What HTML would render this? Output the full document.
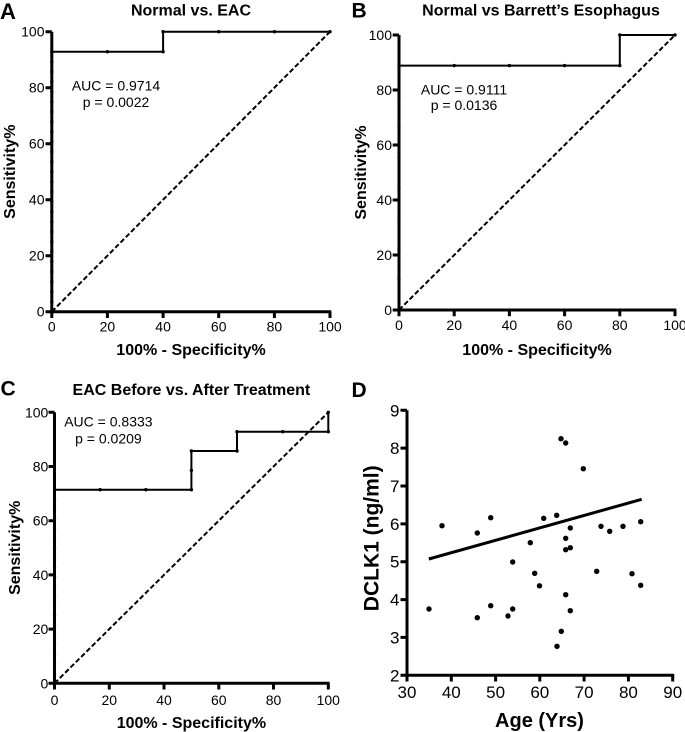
<!DOCTYPE html>
<html>
<head>
<meta charset="utf-8">
<style>
  html,body{margin:0;padding:0;background:#fff;}
  svg{display:block;}
  text{font-family:"Liberation Sans", Arial, sans-serif; fill:#000;}
  .t{font-size:14px;}
  .td{font-size:17px;}
  .b{font-weight:bold;font-size:16px;}
  .L{font-weight:bold;font-size:21px;}
</style>
</head>
<body>
<svg width="685" height="732" viewBox="0 0 685 732" xmlns="http://www.w3.org/2000/svg">
  <rect width="685" height="732" fill="#fff"/>

  <!-- ================= PANEL A ================= -->
  <text x="0" y="19" class="L" style="font-size:22px">A</text>
  <text x="191" y="15.5" class="b" text-anchor="middle">Normal vs. EAC</text>
  <g stroke="#000" fill="none" stroke-width="3">
    <path d="M51.8,31.7 V313.2"/>
    <path d="M50.3,311.7 H331.3"/>
    <path d="M45.5,311.7 H51.8 M45.5,255.7 H51.8 M45.5,199.7 H51.8 M45.5,143.7 H51.8 M45.5,87.7 H51.8 M45.5,31.7 H51.8"/>
    <path d="M51.8,311.7 V318 M107.4,311.7 V318 M163.1,311.7 V318 M218.7,311.7 V318 M274.4,311.7 V318 M330,311.7 V318"/>
  </g>
  <line x1="51.8" y1="311.7" x2="51.8" y2="51.7" stroke="#000" stroke-width="3.3" stroke-dasharray="0 10" stroke-linecap="round"/>
  <path d="M51.8,311.7 L330,31.7" stroke="#000" stroke-width="2" fill="none" stroke-dasharray="5 2.5"/>
  <path d="M51.8,311.7 V51.7 H163.1 V31.7 H330" stroke="#000" stroke-width="2" fill="none"/>
  <g fill="#000">
    <circle cx="107.4" cy="51.7" r="1.7"/><circle cx="163.1" cy="51.7" r="1.7"/>
    <circle cx="163.1" cy="31.7" r="1.7"/><circle cx="218.7" cy="31.7" r="1.7"/>
    <circle cx="274.4" cy="31.7" r="1.7"/><circle cx="330" cy="31.7" r="1.7"/>
  </g>
  <g class="t" text-anchor="end">
    <text x="44.5" y="316.7" class="t">0</text>
    <text x="44.5" y="260.7" class="t">20</text>
    <text x="44.5" y="204.7" class="t">40</text>
    <text x="44.5" y="148.7" class="t">60</text>
    <text x="44.5" y="92.7" class="t">80</text>
    <text x="44.5" y="36.7" class="t">100</text>
  </g>
  <g text-anchor="middle">
    <text x="51.8" y="331.7" class="t">0</text>
    <text x="107.4" y="331.7" class="t">20</text>
    <text x="163.1" y="331.7" class="t">40</text>
    <text x="218.7" y="331.7" class="t">60</text>
    <text x="274.4" y="331.7" class="t">80</text>
    <text x="330" y="331.7" class="t">100</text>
  </g>
  <text x="116" y="90.7" class="t" text-anchor="middle">AUC = 0.9714</text>
  <text x="116" y="107" class="t" text-anchor="middle">p = 0.0022</text>
  <text transform="translate(15,171.7) rotate(-90)" class="b" text-anchor="middle">Sensitivity%</text>
  <text x="191" y="355" class="b" text-anchor="middle">100% - Specificity%</text>

  <!-- ================= PANEL B ================= -->
  <text x="351.5" y="17.5" class="L">B</text>
  <text x="541" y="15.5" class="b" text-anchor="middle">Normal vs Barrett’s Esophagus</text>
  <g stroke="#000" fill="none" stroke-width="3">
    <path d="M399,35 V311.5"/>
    <path d="M397.5,310 H676.3"/>
    <path d="M392.7,310 H399 M392.7,255 H399 M392.7,200 H399 M392.7,145 H399 M392.7,90 H399 M392.7,35 H399"/>
    <path d="M399,310 V316.3 M454.2,310 V316.3 M509.4,310 V316.3 M564.6,310 V316.3 M619.8,310 V316.3 M675,310 V316.3"/>
  </g>
  <line x1="399" y1="310" x2="399" y2="65.6" stroke="#000" stroke-width="3.3" stroke-dasharray="0 30.55" stroke-linecap="round"/>
  <path d="M399,310 L675,35" stroke="#000" stroke-width="2" fill="none" stroke-dasharray="5 2.5"/>
  <path d="M399,310 V65.6 H619.8 V35 H675" stroke="#000" stroke-width="2" fill="none"/>
  <g fill="#000">
    <circle cx="454.2" cy="65.6" r="1.7"/><circle cx="509.4" cy="65.6" r="1.7"/>
    <circle cx="564.6" cy="65.6" r="1.7"/><circle cx="619.8" cy="65.6" r="1.7"/>
    <circle cx="619.8" cy="35" r="1.7"/><circle cx="675" cy="35" r="1.7"/>
  </g>
  <g text-anchor="end">
    <text x="392" y="315" class="t">0</text>
    <text x="392" y="260" class="t">20</text>
    <text x="392" y="205" class="t">40</text>
    <text x="392" y="150" class="t">60</text>
    <text x="392" y="95" class="t">80</text>
    <text x="392" y="40" class="t">100</text>
  </g>
  <g text-anchor="middle">
    <text x="399" y="330" class="t">0</text>
    <text x="454.2" y="330" class="t">20</text>
    <text x="509.4" y="330" class="t">40</text>
    <text x="564.6" y="330" class="t">60</text>
    <text x="619.8" y="330" class="t">80</text>
    <text x="675" y="330" class="t">100</text>
  </g>
  <text x="464" y="94.3" class="t" text-anchor="middle">AUC = 0.9111</text>
  <text x="464" y="110" class="t" text-anchor="middle">p = 0.0136</text>
  <text transform="translate(366,172.5) rotate(-90)" class="b" text-anchor="middle">Sensitivity%</text>
  <text x="537" y="355" class="b" text-anchor="middle">100% - Specificity%</text>

  <!-- ================= PANEL C ================= -->
  <text x="0.5" y="395.5" class="L">C</text>
  <text x="191.4" y="395" class="b" text-anchor="middle">EAC Before vs. After Treatment</text>
  <g stroke="#000" fill="none" stroke-width="3">
    <path d="M54.5,412.3 V684.8"/>
    <path d="M53,683.3 H329.6"/>
    <path d="M48.5,683.3 H54.5 M48.5,629.1 H54.5 M48.5,574.9 H54.5 M48.5,520.7 H54.5 M48.5,466.5 H54.5 M48.5,412.3 H54.5"/>
    <path d="M54.5,683.3 V689.5 M109.3,683.3 V689.5 M164,683.3 V689.5 M218.8,683.3 V689.5 M273.5,683.3 V689.5 M328.3,683.3 V689.5"/>
  </g>
  <line x1="54.5" y1="683.3" x2="54.5" y2="489.7" stroke="#000" stroke-width="3.3" stroke-dasharray="0 9.68" stroke-linecap="round"/>
  <path d="M54.5,683.3 L328.3,412.3" stroke="#000" stroke-width="2" fill="none" stroke-dasharray="5 2.5"/>
  <path d="M54.5,683.3 V489.7 H191.4 V451 H237 V431.7 H328.3 V412.3" stroke="#000" stroke-width="2" fill="none"/>
  <g fill="#000">
    <circle cx="100.1" cy="489.7" r="1.7"/><circle cx="145.8" cy="489.7" r="1.7"/>
    <circle cx="191.4" cy="489.7" r="1.7"/><circle cx="191.4" cy="470.4" r="1.7"/>
    <circle cx="191.4" cy="451" r="1.7"/><circle cx="237" cy="451" r="1.7"/>
    <circle cx="237" cy="431.7" r="1.7"/><circle cx="282.7" cy="431.7" r="1.7"/>
    <circle cx="328.3" cy="431.7" r="1.7"/><circle cx="328.3" cy="412.3" r="1.7"/>
  </g>
  <g text-anchor="end">
    <text x="48.3" y="688.3" class="t">0</text>
    <text x="48.3" y="634.1" class="t">20</text>
    <text x="48.3" y="579.9" class="t">40</text>
    <text x="48.3" y="525.7" class="t">60</text>
    <text x="48.3" y="471.5" class="t">80</text>
    <text x="48.3" y="417.3" class="t">100</text>
  </g>
  <g text-anchor="middle">
    <text x="54.5" y="705" class="t">0</text>
    <text x="109.3" y="705" class="t">20</text>
    <text x="164" y="705" class="t">40</text>
    <text x="218.8" y="705" class="t">60</text>
    <text x="273.5" y="705" class="t">80</text>
    <text x="328.3" y="705" class="t">100</text>
  </g>
  <text x="108.4" y="426.7" class="t" text-anchor="middle">AUC = 0.8333</text>
  <text x="108.4" y="443.3" class="t" text-anchor="middle">p = 0.0209</text>
  <text transform="translate(20,547.8) rotate(-90)" class="b" text-anchor="middle">Sensitivity%</text>
  <text x="191.4" y="728" class="b" text-anchor="middle">100% - Specificity%</text>

  <!-- ================= PANEL D ================= -->
  <text x="351.5" y="397" class="L">D</text>
  <g stroke="#000" fill="none" stroke-width="3">
    <path d="M407,410.3 V676.8"/>
    <path d="M405.5,675.3 H674.2"/>
    <path d="M400.5,675.3 H407 M400.5,637.4 H407 M400.5,599.6 H407 M400.5,561.7 H407 M400.5,523.9 H407 M400.5,486 H407 M400.5,448.1 H407 M400.5,410.3 H407"/>
    <path d="M407,675.3 V681.5 M451.3,675.3 V681.5 M495.6,675.3 V681.5 M539.8,675.3 V681.5 M584.1,675.3 V681.5 M628.4,675.3 V681.5 M672.7,675.3 V681.5"/>
  </g>
  <g text-anchor="end">
    <text x="399.5" y="681.3" class="td">2</text>
    <text x="399.5" y="643.4" class="td">3</text>
    <text x="399.5" y="605.6" class="td">4</text>
    <text x="399.5" y="567.7" class="td">5</text>
    <text x="399.5" y="529.9" class="td">6</text>
    <text x="399.5" y="492" class="td">7</text>
    <text x="399.5" y="454.1" class="td">8</text>
    <text x="399.5" y="416.3" class="td">9</text>
  </g>
  <g text-anchor="middle">
    <text x="407" y="698" class="td">30</text>
    <text x="451.3" y="698" class="td">40</text>
    <text x="495.6" y="698" class="td">50</text>
    <text x="539.8" y="698" class="td">60</text>
    <text x="584.1" y="698" class="td">70</text>
    <text x="628.4" y="698" class="td">80</text>
    <text x="672.7" y="698" class="td">90</text>
  </g>
  <line x1="428.8" y1="559" x2="641.7" y2="499.3" stroke="#000" stroke-width="3"/>
  <g fill="#000">
    <circle cx="429" cy="609" r="2.7"/>
    <circle cx="442" cy="525.7" r="2.7"/>
    <circle cx="477.3" cy="533" r="2.7"/>
    <circle cx="490.7" cy="517.7" r="2.7"/>
    <circle cx="477.3" cy="617.7" r="2.7"/>
    <circle cx="490.7" cy="605.7" r="2.7"/>
    <circle cx="508" cy="616" r="2.7"/>
    <circle cx="512.7" cy="609" r="2.7"/>
    <circle cx="512.7" cy="562" r="2.7"/>
    <circle cx="530.3" cy="542.7" r="2.7"/>
    <circle cx="534.7" cy="573.3" r="2.7"/>
    <circle cx="539.5" cy="585.8" r="2.7"/>
    <circle cx="543.7" cy="518.3" r="2.7"/>
    <circle cx="556.7" cy="515.3" r="2.7"/>
    <circle cx="561" cy="438.7" r="2.7"/>
    <circle cx="565.7" cy="443" r="2.7"/>
    <circle cx="583.3" cy="468.7" r="2.7"/>
    <circle cx="570.3" cy="528" r="2.7"/>
    <circle cx="565.7" cy="538.3" r="2.7"/>
    <circle cx="565.7" cy="549.7" r="2.7"/>
    <circle cx="570.3" cy="547.7" r="2.7"/>
    <circle cx="596.7" cy="571.3" r="2.7"/>
    <circle cx="601" cy="526.3" r="2.7"/>
    <circle cx="609.7" cy="531.3" r="2.7"/>
    <circle cx="623" cy="526.3" r="2.7"/>
    <circle cx="632" cy="573.7" r="2.7"/>
    <circle cx="640.7" cy="521.7" r="2.7"/>
    <circle cx="640.7" cy="585.3" r="2.7"/>
    <circle cx="565.7" cy="594.7" r="2.7"/>
    <circle cx="570.3" cy="610.7" r="2.7"/>
    <circle cx="561.3" cy="631.3" r="2.7"/>
    <circle cx="557" cy="646.3" r="2.7"/>
  </g>
  <text transform="translate(378.5,538.3) rotate(-90)" text-anchor="middle" style="font-weight:bold;font-size:21px">DCLK1 (ng/ml)</text>
  <text x="539.5" y="727" text-anchor="middle" style="font-weight:bold;font-size:20px">Age (Yrs)</text>
</svg>
</body>
</html>
